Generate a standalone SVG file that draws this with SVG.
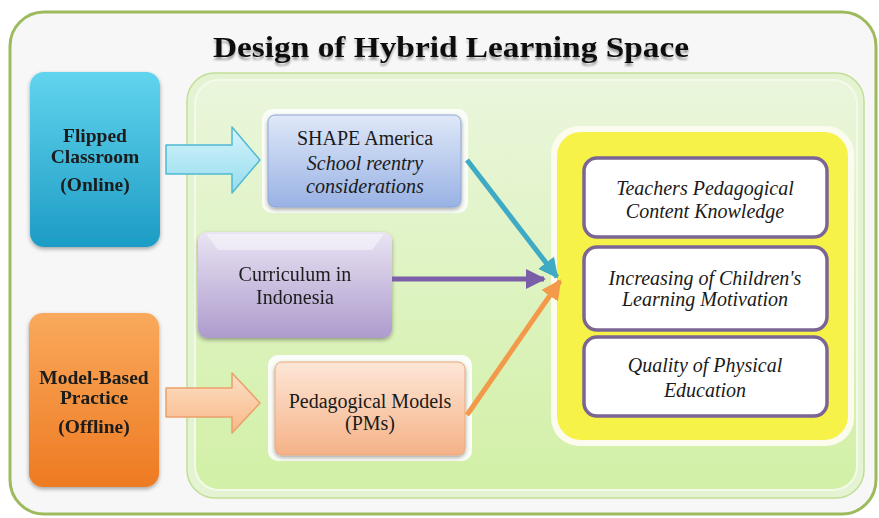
<svg xmlns="http://www.w3.org/2000/svg" width="879" height="518" viewBox="0 0 879 518">
  <defs>
    <style>
      .bold { font-family: "Liberation Serif", "Times New Roman", serif; font-weight: bold; font-size: 19.5px; fill: #1a1a1a; text-anchor: middle; }
      .reg { font-family: "Liberation Serif", "Times New Roman", serif; font-size: 20px; fill: #1a1a1a; text-anchor: middle; }
      .ital { font-family: "Liberation Serif", "Times New Roman", serif; font-style: italic; font-size: 20px; fill: #1a1a1a; text-anchor: middle; }
      .title { font-family: "Liberation Serif", "Times New Roman", serif; font-weight: bold; font-size: 30px; fill: #111; }
      .outcome { fill: #ffffff; stroke: #7b6594; stroke-width: 3.5; }
    </style>
    <linearGradient id="gCyan" x1="0" y1="0" x2="0" y2="1">
      <stop offset="0" stop-color="#62d4ee"/>
      <stop offset="1" stop-color="#1c9cc4"/>
    </linearGradient>
    <linearGradient id="gOrange" x1="0" y1="0" x2="0" y2="1">
      <stop offset="0" stop-color="#f9a95c"/>
      <stop offset="1" stop-color="#ee7a22"/>
    </linearGradient>
    <linearGradient id="gBlue" x1="0" y1="0" x2="0" y2="1">
      <stop offset="0" stop-color="#dfe8f8"/>
      <stop offset="1" stop-color="#99b2e4"/>
    </linearGradient>
    <linearGradient id="gLav" x1="0" y1="0" x2="0" y2="1">
      <stop offset="0" stop-color="#eae4f3"/>
      <stop offset="1" stop-color="#ad9bcd"/>
    </linearGradient>
    <linearGradient id="gPeach" x1="0" y1="0" x2="0" y2="1">
      <stop offset="0" stop-color="#fde6d6"/>
      <stop offset="1" stop-color="#f5b287"/>
    </linearGradient>
    <linearGradient id="gGreen" x1="0" y1="0" x2="0" y2="1">
      <stop offset="0" stop-color="#eaf6dc"/>
      <stop offset="1" stop-color="#d2f0a6"/>
    </linearGradient>
    <linearGradient id="gArrowCyan" x1="0" y1="0" x2="0" y2="1">
      <stop offset="0" stop-color="#d4f4fb"/>
      <stop offset="1" stop-color="#96dcee"/>
    </linearGradient>
    <linearGradient id="gArrowOrange" x1="0" y1="0" x2="0" y2="1">
      <stop offset="0" stop-color="#fde0c6"/>
      <stop offset="1" stop-color="#f8b888"/>
    </linearGradient>
    <filter id="shadow" x="-10%" y="-10%" width="120%" height="130%">
      <feGaussianBlur in="SourceAlpha" stdDeviation="2"/>
      <feOffset dx="0" dy="2" result="b"/>
      <feComponentTransfer><feFuncA type="linear" slope="0.35"/></feComponentTransfer>
      <feMerge><feMergeNode/><feMergeNode in="SourceGraphic"/></feMerge>
    </filter>
    <filter id="titleShadow" x="-5%" y="-30%" width="110%" height="180%">
      <feGaussianBlur in="SourceAlpha" stdDeviation="1.2"/>
      <feOffset dx="0" dy="3"/>
      <feComponentTransfer><feFuncA type="linear" slope="0.35"/></feComponentTransfer>
      <feMerge><feMergeNode/><feMergeNode in="SourceGraphic"/></feMerge>
    </filter>
    <marker id="mTeal" viewBox="0 0 10 10" refX="9" refY="5" markerWidth="4" markerHeight="4" orient="auto" markerUnits="strokeWidth">
      <path d="M0,0 L10,5 L0,10 Z" fill="#3eaac4"/>
    </marker>
    <marker id="mPurple" viewBox="0 0 10 10" refX="9" refY="5" markerWidth="4" markerHeight="4" orient="auto" markerUnits="strokeWidth">
      <path d="M0,0 L10,5 L0,10 Z" fill="#7a5ea8"/>
    </marker>
    <marker id="mOrange" viewBox="0 0 10 10" refX="9" refY="5" markerWidth="4" markerHeight="4" orient="auto" markerUnits="strokeWidth">
      <path d="M0,0 L10,5 L0,10 Z" fill="#f2994a"/>
    </marker>
  </defs>

  <!-- page background and outer frame -->
  <rect x="0" y="0" width="879" height="518" fill="#ffffff"/>
  <rect x="10" y="12" width="866" height="502" rx="34" fill="#f7f7f7" stroke="#9dbb5d" stroke-width="3"/>

  <!-- title -->
  <text class="title" x="213" y="57" textLength="476" lengthAdjust="spacingAndGlyphs" filter="url(#titleShadow)">Design of Hybrid Learning Space</text>

  <!-- green working panel -->
  <g id="panel">
    <rect x="187" y="73" width="677" height="425" rx="28" fill="#e4f3d2" stroke="#c2de98" stroke-width="1.5"/>
    <rect x="195" y="80" width="662" height="410" rx="24" fill="url(#gGreen)" stroke="#f3faea" stroke-width="2"/>
  </g>

  <!-- yellow outcome panel -->
  <g id="outcomes-panel">
    <rect x="551" y="126" width="303" height="320" rx="28" fill="#fbfbee"/>
    <rect x="557" y="132" width="291" height="308" rx="24" fill="#f6f248"/>
  </g>

  <g id="flipped-classroom" filter="url(#shadow)">
    <rect x="30" y="72" width="130" height="175" rx="14" fill="url(#gCyan)"/>
    <text class="bold" x="95" y="142">Flipped</text>
    <text class="bold" x="95" y="163">Classroom</text>
    <text class="bold" x="95" y="191">(Online)</text>
  </g>

  <g id="model-based-practice" filter="url(#shadow)">
    <rect x="29" y="313" width="130" height="174" rx="14" fill="url(#gOrange)"/>
    <text class="bold" x="94" y="384">Model-Based</text>
    <text class="bold" x="94" y="404">Practice</text>
    <text class="bold" x="94" y="433">(Offline)</text>
  </g>

  <g id="shape-america">
    <rect x="262" y="109" width="206" height="104" rx="10" fill="#fbfdf8"/>
    <rect x="268" y="115" width="193" height="92" rx="7" fill="url(#gBlue)" stroke="#8ea6d6" stroke-width="1" filter="url(#shadow)"/>
    <text class="reg" x="365" y="145">SHAPE America</text>
    <text class="ital" x="365" y="170">School reentry</text>
    <text class="ital" x="365" y="193">considerations</text>
  </g>

  <g id="curriculum-indonesia" filter="url(#shadow)">
    <rect x="198" y="232" width="194" height="106" rx="9" fill="url(#gLav)"/>
    <path d="M206,234 L384,234 L372,250 L218,250 Z" fill="#ffffff" opacity="0.45"/>
    <text class="reg" x="295" y="281">Curriculum in</text>
    <text class="reg" x="295" y="304">Indonesia</text>
  </g>

  <g id="pedagogical-models">
    <rect x="268" y="355" width="204" height="106" rx="10" fill="#fbfdf8"/>
    <rect x="275" y="362" width="190" height="93" rx="7" fill="url(#gPeach)" stroke="#e9a77a" stroke-width="1" filter="url(#shadow)"/>
    <text class="reg" x="370" y="408">Pedagogical Models</text>
    <text class="reg" x="370" y="430">(PMs)</text>
  </g>

  <g id="teachers-pck">
    <rect class="outcome" x="584" y="158" width="243" height="79" rx="13"/>
    <text class="ital" x="705" y="195">Teachers Pedagogical</text>
    <text class="ital" x="705" y="218">Content Knowledge</text>
  </g>

  <g id="learning-motivation">
    <rect class="outcome" x="584" y="247" width="243" height="83" rx="13"/>
    <text class="ital" x="705" y="285">Increasing of Children's</text>
    <text class="ital" x="705" y="306">Learning Motivation</text>
  </g>

  <g id="quality-pe">
    <rect class="outcome" x="584" y="337" width="243" height="79" rx="13"/>
    <text class="ital" x="705" y="372">Quality of Physical</text>
    <text class="ital" x="705" y="397">Education</text>
  </g>

  <!-- connectors -->
  <g id="connectors">
    <polygon points="166,145 232,145 232,127 260,160 232,193 232,174 166,174" fill="url(#gArrowCyan)" stroke="#4fb9d3" stroke-width="1.5" stroke-linejoin="round"/>
    <polygon points="166,388 232,388 232,373 260,403 232,433 232,417 166,417" fill="url(#gArrowOrange)" stroke="#eba06b" stroke-width="1.5" stroke-linejoin="round"/>
    <line x1="467" y1="160" x2="557" y2="277" stroke="#3eaac4" stroke-width="5" marker-end="url(#mTeal)"/>
    <line x1="392" y1="279" x2="544" y2="279" stroke="#7a5ea8" stroke-width="5" marker-end="url(#mPurple)"/>
    <line x1="467" y1="415" x2="560" y2="281" stroke="#f2994a" stroke-width="5" marker-end="url(#mOrange)"/>
  </g>
</svg>
